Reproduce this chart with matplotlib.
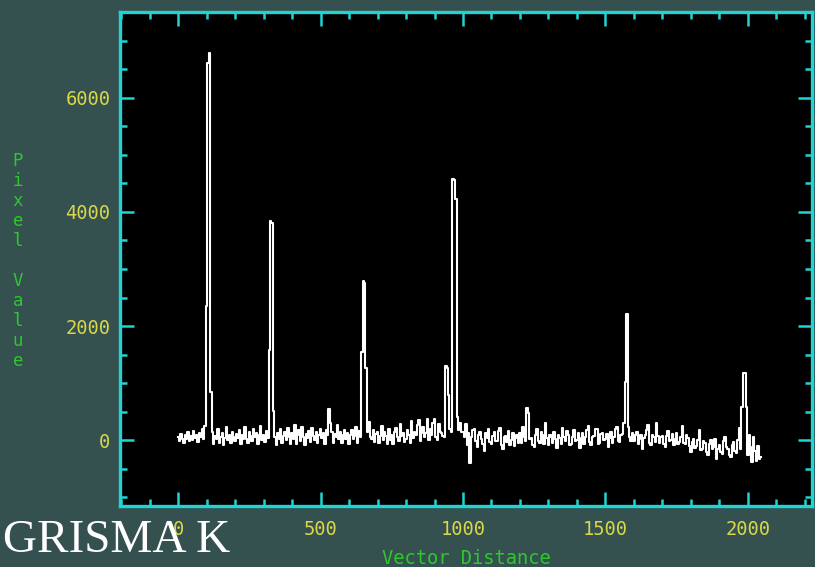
import numpy as np
import matplotlib.pyplot as plt
from matplotlib.ticker import MultipleLocator

# colours
bg = '#34504f'
cyan = '#22d3d3'
yellow = '#d8d84a'
green = '#2ec82e'

# spectrum: sample position (every 5 units) and pixel value
distance = list(range(0, 2050, 5))
pixel_value = [
    60, -10, 110, 30, -40, 90, 20, 140, -20, 70, 10, 170, 40, 100, -30, 120, 60, 200, 30, 250,               # 0-95
    2350, 6600, 6780, 850, 150, -60, 80, 20, 190, -50, 60, 130, -80, 40, 230, 10, 90, -40, 150, 60,          # 100-195
    -20, 110, 40, 180, -70, 90, 20, 240, 30, -50, 150, 70, -10, 200, 60, 120, -60, 90, 250, 10,              # 200-295
    100, -30, 160, 40, 1580, 3840, 3800, 510, 60, -80, 120, 30, 190, -40, 80, 150, 0, 220, 50, -70,          # 300-395
    130, 20, 260, -60, 90, 180, -10, 240, 60, -90, 110, 40, 170, -30, 210, 80, 0, 150, -50, 100,             # 400-495
    200, 40, 130, -60, 180, 90, 540, 300, 150, -40, 110, 50, 260, 20, 140, -50, 90, 180, 30, 130,            # 500-595
    -60, 90, 180, 20, 70, 230, -40, 160, 50, 1545, 2790, 2760, 1260, 150, 320, 60, 20, 180, -30, 110,        # 600-695
    150, -40, 80, 250, 10, 140, 80, -60, 200, 10, 100, -70, 140, 220, 60, -20, 290, 80, 130, -30,            # 700-795
    30, 180, 90, -50, 330, 40, 150, 90, 260, 360, -20, 120, 230, 50, 120, 380, 10, 200, 100, 310,            # 800-895
    380, 60, 0, 290, 150, 120, 70, 60, 1300, 1270, 790, 200, 150, 4580, 4560, 4230, 400, 180, 300, 150,      # 900-995
    150, 60, 280, -80, 120, -400, 60, 180, 200, -20, -120, 90, 140, 30, -60, -180, 120, 40, 190, -30,        # 1000-1095
    -60, 80, 150, -20, -10, 160, 210, -90, -150, 60, 80, -30, 170, -80, 0, 120, -100, 40, 90, -50,           # 1100-1195
    120, -40, 230, 60, -20, 560, 480, 20, 40, -80, -120, 100, 190, -10, -40, 150, 90, -60, 300, 40,          # 1200-1295
    -80, 90, 60, -40, 150, 30, -130, 100, 40, -70, 210, 50, -20, 170, 100, -80, -60, 60, 180, -10,           # 1300-1395
    10, 120, -140, 40, 120, -60, 50, 180, 250, -30, -90, 60, 70, 200, 190, -70, -40, 110, 130, 0,            # 1400-1495
    20, 110, -110, 40, 150, -50, 60, 200, 230, -20, -30, 90, 110, 300, 1020, 2210, 240, 60, -20, 130,        # 1500-1595
    -20, 100, 140, -60, 30, 90, -150, 40, 90, 180, 270, -40, -80, 100, 60, -30, 300, 80, -40, 50,            # 1600-1695
    80, -60, -120, 70, 170, -20, 10, 110, -90, 30, 130, -70, -30, 60, 250, -40, -60, 100, 40, -100,          # 1700-1795
    -200, -30, 20, -140, -100, 0, 180, -170, -160, -20, -40, -210, -250, -60, 10, -150, -120, 20, -330, -160,  # 1800-1895
    -90, -210, -240, -20, 60, -120, -150, -260, -290, -80, -30, -190, -220, 0, 220, -150, 580, 1180, 1180, 580,  # 1900-1995
    -260, 100, -110, -380, 60, -180, -360, -100, -320, -300,                                                 # 2000-2045
]

xticks = [0, 500, 1000, 1500, 2000]
yticks = [0, 2000, 4000, 6000]

fig = plt.figure(figsize=(8.15, 5.67), dpi=100, facecolor=bg)
ax = fig.add_axes([120/815, 1-506/567, (812-120)/815, (506-12)/567])
ax.set_facecolor('black')

ax.plot(distance, pixel_value, drawstyle='steps-mid', color='white', lw=1.5)

ax.set_xlim(-204, 2225)
ax.set_ylim(-1150, 7500)
ax.set_xticks(xticks)
ax.set_yticks(yticks)
ax.xaxis.set_minor_locator(MultipleLocator(100))
ax.yaxis.set_minor_locator(MultipleLocator(500))

for s in ax.spines.values():
    s.set_color(cyan)
    s.set_linewidth(2.4)

ax.tick_params(which='both', direction='in', color=cyan, width=1.8,
               top=True, right=True)
ax.tick_params(which='major', length=10)
ax.tick_params(which='minor', length=5)
ax.tick_params(axis='x', which='major', pad=10, labelsize=13.5, labelcolor=yellow)
ax.tick_params(axis='y', which='major', pad=7, labelsize=13.5, labelcolor=yellow)
for lab in ax.get_xticklabels() + ax.get_yticklabels():
    lab.set_family('DejaVu Sans Mono')

fig.text(466/815, 1-558/567, 'Vector Distance', color=green,
         family='DejaVu Sans Mono', fontsize=13.5, ha='center', va='center')
fig.text(18/815, 1-261/567, '\n'.join('Pixel Value'), color=green,
         family='DejaVu Sans Mono', fontsize=12.5, ha='center', va='center',
         linespacing=1.15)

fig.text(3/815, 1-541/567, 'GRISMA\u2009K', color='white', family='Liberation Serif',
         fontsize=34, ha='left', va='center')

fig.savefig('out.png', dpi=100, facecolor=bg)
